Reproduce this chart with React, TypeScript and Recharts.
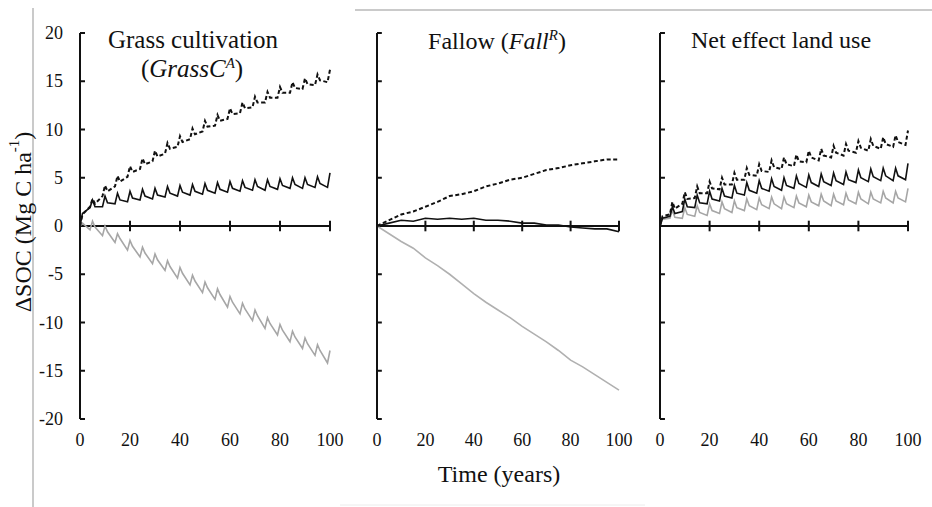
import React from 'react';
import { LineChart, Line, XAxis, YAxis, ReferenceLine } from 'recharts';

// Years sampled for the saw-tooth series (peak every 5 years)
const sawYears = [0, 1, 4, 5, 6, 9, 10, 11, 14, 15, 16, 19, 20, 21, 24, 25, 26, 29, 30, 31, 34, 35, 36, 39, 40, 41, 44, 45, 46, 49, 50, 51, 54, 55, 56, 59, 60, 61, 64, 65, 66, 69, 70, 71, 74, 75, 76, 79, 80, 81, 84, 85, 86, 89, 90, 91, 94, 95, 96, 99, 100];

const grassDashed = [0, 1.2, 2.0, 2.8, 2.3, 3.1, 4.2, 3.6, 4.1, 5.2, 4.6, 5.1, 6.2, 5.6, 5.9, 7.0, 6.4, 6.7, 7.8, 7.2, 7.5, 8.6, 8.0, 8.2, 9.3, 8.7, 9.0, 10.1, 9.5, 9.8, 10.9, 10.3, 10.4, 11.5, 10.9, 11.1, 12.2, 11.6, 11.7, 12.8, 12.2, 12.3, 13.4, 12.8, 12.8, 13.9, 13.3, 13.3, 14.4, 13.8, 13.8, 14.9, 14.3, 14.2, 15.3, 14.7, 14.6, 15.7, 15.1, 14.9, 16.2];
const grassSolid = [0, 1.3, 1.9, 2.7, 2.0, 2.0, 3.1, 2.4, 2.3, 3.4, 2.7, 2.5, 3.6, 2.9, 2.7, 3.8, 3.1, 2.8, 3.9, 3.2, 3.0, 4.1, 3.4, 3.1, 4.2, 3.5, 3.2, 4.3, 3.6, 3.3, 4.4, 3.7, 3.4, 4.5, 3.8, 3.5, 4.6, 3.9, 3.6, 4.7, 4.0, 3.7, 4.8, 4.1, 3.7, 4.8, 4.1, 3.8, 4.9, 4.2, 3.9, 5.0, 4.3, 3.9, 5.0, 4.3, 4.0, 5.1, 4.4, 4.0, 5.5];
const grassGray = [0, 0.3, -0.4, 0.5, -0.1, -1.0, 0.0, -0.6, -1.7, -0.8, -1.3, -2.5, -1.5, -2.1, -3.2, -2.2, -2.8, -3.9, -2.9, -3.5, -4.6, -3.6, -4.2, -5.4, -4.3, -4.9, -6.1, -5.1, -5.7, -6.9, -5.8, -6.4, -7.6, -6.5, -7.1, -8.4, -7.3, -7.9, -9.1, -8.0, -8.6, -9.8, -8.7, -9.3, -10.6, -9.5, -10.1, -11.3, -10.2, -10.8, -12.0, -10.9, -11.5, -12.7, -11.6, -12.2, -13.4, -12.3, -12.9, -14.2, -12.9];

const netDashed = [0, 1.0, 1.2, 2.5, 1.8, 2.3, 3.5, 2.8, 2.9, 4.1, 3.4, 3.4, 4.6, 3.9, 3.8, 5.0, 4.3, 4.3, 5.5, 4.8, 4.8, 6.0, 5.3, 5.2, 6.4, 5.7, 5.6, 6.8, 6.1, 5.9, 7.1, 6.4, 6.2, 7.4, 6.7, 6.6, 7.8, 7.1, 6.8, 8.0, 7.3, 7.1, 8.3, 7.6, 7.3, 8.5, 7.8, 7.6, 8.8, 8.1, 7.8, 9.0, 8.3, 8.0, 9.2, 8.5, 8.2, 9.4, 8.7, 8.4, 9.9];
const netSolid = [0, 0.8, 1.0, 2.0, 1.3, 1.5, 2.8, 2.0, 1.9, 3.2, 2.4, 2.3, 3.6, 2.8, 2.6, 3.9, 3.1, 2.9, 4.2, 3.4, 3.2, 4.5, 3.7, 3.4, 4.7, 3.9, 3.6, 4.9, 4.1, 3.7, 5.0, 4.2, 3.9, 5.2, 4.4, 4.0, 5.3, 4.5, 4.1, 5.4, 4.6, 4.2, 5.5, 4.7, 4.3, 5.6, 4.8, 4.5, 5.8, 5.0, 4.6, 5.9, 5.1, 4.7, 6.0, 5.2, 4.7, 6.0, 5.2, 4.8, 6.5];
const netGray = [0, 0.7, 0.8, 1.6, 0.9, 0.8, 1.9, 1.2, 1.0, 2.1, 1.4, 1.1, 2.3, 1.6, 1.3, 2.5, 1.8, 1.4, 2.6, 1.9, 1.6, 2.8, 2.1, 1.7, 2.9, 2.2, 1.8, 3.0, 2.3, 1.8, 3.0, 2.3, 1.9, 3.1, 2.4, 2.0, 3.2, 2.5, 2.1, 3.3, 2.6, 2.1, 3.3, 2.6, 2.2, 3.4, 2.7, 2.3, 3.5, 2.8, 2.3, 3.5, 2.8, 2.4, 3.6, 2.9, 2.4, 3.6, 2.9, 2.5, 3.9];

const fallowYears = [0, 5, 10, 15, 20, 25, 30, 35, 40, 45, 50, 55, 60, 65, 70, 75, 80, 85, 90, 95, 100];
const fallowDashed = [0, 0.6, 1.2, 1.5, 2.0, 2.5, 3.1, 3.3, 3.6, 4.1, 4.4, 4.8, 5.0, 5.4, 5.8, 6.0, 6.3, 6.5, 6.7, 6.9, 6.9];
const fallowSolid = [0, 0.3, 0.6, 0.5, 0.8, 0.7, 0.8, 0.7, 0.8, 0.6, 0.6, 0.5, 0.3, 0.3, 0.1, 0.1, -0.1, -0.2, -0.3, -0.3, -0.6];
const fallowGray = [0, -0.8, -1.6, -2.3, -3.3, -4.1, -5.0, -6.0, -7.0, -7.9, -8.7, -9.5, -10.4, -11.2, -12.0, -12.9, -13.9, -14.6, -15.4, -16.2, -17.0];

const xTicks = [0, 20, 40, 60, 80, 100];
const yTicks = [-20, -15, -10, -5, 0, 5, 10, 15, 20];

const FONT = 'Liberation Serif, Times New Roman, serif';
const INK = '#111';

type Row = { t: number; dashed: number; solid: number; gray: number };

function buildRows(years: number[], dashed: number[], solid: number[], gray: number[]): Row[] {
  return years.map((t, i) => ({ t, dashed: dashed[i], solid: solid[i], gray: gray[i] }));
}

const grassRows = buildRows(sawYears, grassDashed, grassSolid, grassGray);
const fallowRows = buildRows(fallowYears, fallowDashed, fallowSolid, fallowGray);
const netRows = buildRows(sawYears, netDashed, netSolid, netGray);

const AXIS_W = 60;

const renderXTick = (props: any) => {
  const { x, y, payload } = props;
  return (
    <text x={x} y={y} dy={13} textAnchor="middle" fill={INK} style={{ fontFamily: FONT, fontSize: 18 }}>
      {String(payload.value)}
    </text>
  );
};

const renderYTick = (props: any) => {
  const { x, y, payload } = props;
  return (
    <text x={x} y={y} dy={6} textAnchor="end" fill={INK} style={{ fontFamily: FONT, fontSize: 18 }}>
      {String(payload.value)}
    </text>
  );
};

function Panel({ plotLeft, plotWidth, rows, showYLabels, grayColor }: { plotLeft: number; plotWidth: number; rows: Row[]; showYLabels: boolean; grayColor: string }) {
  const width = AXIS_W + plotWidth + 22;
  return (
    <div style={{ position: 'absolute', left: plotLeft - AXIS_W, top: 0, fontFamily: FONT }}>
      <LineChart width={width} height={507} data={rows} margin={{ top: 33, right: 22, bottom: 58, left: 0 }} style={{ fontFamily: FONT }}>
        <XAxis
          dataKey="t"
          type="number"
          domain={[0, 100]}
          ticks={xTicks}
          interval={0}
          axisLine={false}
          tickLine={false}
          tickSize={0}
          tickMargin={14}
          height={30}
          tick={renderXTick}
        />
        <YAxis
          type="number"
          domain={[-20, 20]}
          ticks={yTicks}
          interval={0}
          width={AXIS_W}
          axisLine={{ stroke: INK, strokeWidth: 2 }}
          tickLine={false}
          tickSize={0}
          tickMargin={17}
          tick={showYLabels ? renderYTick : false}
        />
        <ReferenceLine y={0} stroke={INK} strokeWidth={2} />
        {xTicks.slice(1).map((v) => (
          <ReferenceLine key={'xt' + v} segment={[{ x: v, y: -0.55 }, { x: v, y: 0.55 }]} stroke={INK} strokeWidth={2} />
        ))}
        {yTicks.map((v) => (
          <ReferenceLine key={'yt' + v} segment={[{ x: 0, y: v }, { x: 2, y: v }]} stroke={INK} strokeWidth={2} />
        ))}
        <Line type="linear" dataKey="gray" stroke={grayColor} strokeWidth={1.6} dot={false} isAnimationActive={false} />
        <Line type="linear" dataKey="solid" stroke={INK} strokeWidth={1.6} dot={false} isAnimationActive={false} />
        <Line type="linear" dataKey="dashed" stroke={INK} strokeWidth={2} strokeDasharray="4 2.5" dot={false} isAnimationActive={false} />
      </LineChart>
    </div>
  );
}

export default function App() {
  return (
    <div style={{ position: 'absolute', left: 0, top: 0, width: 932, height: 507, background: '#fff', overflow: 'hidden' }}>
      <Panel plotLeft={80} plotWidth={250} rows={grassRows} showYLabels={true} grayColor="#a6a6a6" />
      <Panel plotLeft={377} plotWidth={242} rows={fallowRows} showYLabels={false} grayColor="#b0b0b0" />
      <Panel plotLeft={660} plotWidth={248} rows={netRows} showYLabels={false} grayColor="#a6a6a6" />
      <svg width={932} height={507} style={{ position: 'absolute', left: 0, top: 0, pointerEvents: 'none' }}>
        <line x1={33} y1={8} x2={33} y2={507} stroke="#b8b8b8" strokeWidth={1.5} />
        <line x1={355} y1={10} x2={932} y2={10} stroke="#b8b8b8" strokeWidth={1.5} />
        <line x1={340} y1={505} x2={645} y2={505} stroke="#ececec" strokeWidth={1} />
        <g fontFamily={FONT} fill={INK}>
          <text x={193} y={48} fontSize={25} textAnchor="middle">Grass cultivation</text>
          <text x={192} y={77} fontSize={25} textAnchor="middle">
            <tspan>(</tspan>
            <tspan fontStyle="italic">GrassC</tspan>
            <tspan fontStyle="italic" fontSize={15} dy={-9}>A</tspan>
            <tspan dy={9}>)</tspan>
          </text>
          <text x={497} y={49} fontSize={24} textAnchor="middle">
            <tspan>Fallow (</tspan>
            <tspan fontStyle="italic">Fall</tspan>
            <tspan fontStyle="italic" fontSize={15} dy={-9}>R</tspan>
            <tspan dy={9}>)</tspan>
          </text>
          <text x={781} y={48} fontSize={24} textAnchor="middle">Net effect land use</text>
          <text x={499} y={482} fontSize={24} textAnchor="middle">Time (years)</text>
          <text x={23} y={222} fontSize={24} textAnchor="middle" dominantBaseline="central" transform="rotate(-90 23 222)">
            <tspan>ΔSOC (Mg C ha</tspan>
            <tspan fontSize={15} dy={-9}>-1</tspan>
            <tspan dy={9}>)</tspan>
          </text>
        </g>
      </svg>
    </div>
  );
}
